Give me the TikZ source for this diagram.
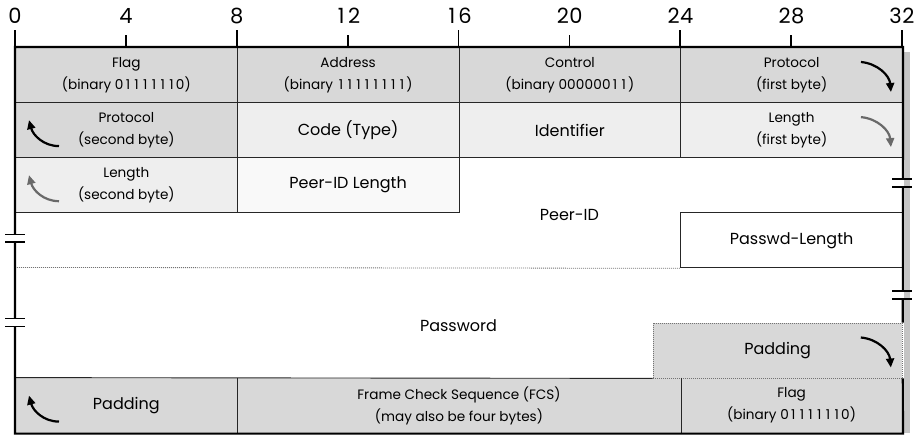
\documentclass[tikz,border=0pt]{standalone}
\usepackage{fontspec}
\setmainfont{Poppins}
\usepackage{xcolor}
\usetikzlibrary{arrows.meta,positioning}
\definecolor{pktdark}{RGB}{216,216,216}
\definecolor{pktlight}{RGB}{238,238,238}
\definecolor{pktpale}{RGB}{249,249,249}
\definecolor{pktshade}{RGB}{196,196,196}
\definecolor{arrowgray}{RGB}{105,105,105}
% evenly spaced digits
\newlength\digitwd
\def\digits#1{\digitsloop#1\relax}
\def\digitsloop#1{\ifx#1\relax\else\makebox[\digitwd]{#1}\expandafter\digitsloop\fi}
\tikzset{
  field/.style={draw=black!85,line width=0.9pt,anchor=north west,inner sep=0pt,
                minimum width=#1*27.72pt,minimum height=55.1pt,align=center,
                font=\fontsize{13.6}{22}\selectfont\setlength\digitwd{0.64em}},
  bigfield/.style={field=#1,font=\fontsize{16}{18}\selectfont},
  plainlbl/.style={inner sep=0pt,font=\fontsize{16}{18}\selectfont},
  frameline/.style={draw=black,line width=2.2pt},
  sepline/.style={draw=black!85,line width=0.9pt},
  dotrule/.style={draw=black!55,line width=0.8pt,dash pattern=on 0.9pt off 1.1pt},
  bendarrow/.style={-{Stealth[length=9pt,width=8pt,inset=0pt]},line width=2.2pt},
  bittick/.style={draw=black,line width=1.8pt},
  bitnum/.style={font=\fontsize{21}{21}\selectfont\setlength\digitwd{0.62em},
                 anchor=base,inner sep=0pt},
  brk/.style={draw=black,line width=1.6pt},
}

\begin{document}
\begin{tikzpicture}[x=27.72pt,y=-55.1pt]
\useasboundingbox (-0.5411,-0.853) rectangle (32.576,7.060);

% ============ bit ruler ============
\foreach \b in {0,4,...,32} { \node[bitnum] (n\b) at (\b,-0.43) {\expandafter\digits\expandafter{\b}}; }
\foreach \b in {4,12,20,28} { \draw[bittick] (\b,0) -- (\b,-0.22); }
\foreach \b in {0,8,16,24,32} { \draw[bittick] (\b,0) -- (\b,-0.31); }

% shadow on the right edge
\fill[pktshade] (32.07,0.09) rectangle (32.29,7.0);

% ============ fixed header ============
\node[field=8,fill=pktdark] (flag) at (0,0) {Flag\\(binary \digits{01111110})};
\node[field=8,fill=pktdark] (addr) at (8,0) {Address\\(binary \digits{11111111})};
\node[field=8,fill=pktdark] (ctrl) at (16,0) {Control\\(binary \digits{00000011})};
\node[field=8,fill=pktdark] (protoa) at (24,0) {Protocol\\(first byte)};
\node[field=8,fill=pktdark] (protob) at (0,1) {Protocol\\(second byte)};
\node[bigfield=8,fill=pktlight] (code) at (8,1) {Code (Type)};
\node[bigfield=8,fill=pktlight] (ident) at (16,1) {Identifier};
\node[field=8,fill=pktlight] (lena) at (24,1) {Length\\(first byte)};
\node[field=8,fill=pktlight] (lenb) at (0,2) {Length\\(second byte)};
\node[bigfield=8,fill=pktpale] (peerlen) at (8,2) {Peer-ID Length};

% ============ variable part ============
\node[bigfield=8,fill=white] (pwlen) at (24,3) {Passwd-Length};
\node[plainlbl] (peerid) at (20,3.05) {Peer-ID};
\draw[dotrule] (0,4) -- (pwlen.south west);
\node[plainlbl] (passwd) at (16,5.05) {Password};

% ============ trailer ============
\node[bigfield=8,fill=pktdark,draw=none] (padl) at (0,6) {Padding};
\node[field=16,fill=pktdark,draw=none] (fcs) at (8,6)
  {Frame Check Sequence (FCS)\\(may also be four bytes)};
\node[field=8,fill=pktdark,draw=none] (flagb) at (24,6) {Flag\\(binary \digits{01111110})};
\node[bigfield=9,fill=pktdark,dotrule] (padr) at (23,5) {Padding};
\draw[sepline] (padl.north west) -- (padr.south west);
\draw[sepline] (padl.north east) -- (padl.south east) (fcs.north east) -- (fcs.south east);

% outer frame, open where the padding runs into the border
\draw[frameline] (padr.north east) -- (protoa.north east) -- (flag.north west)
  -- (padl.south west) -- (flagb.south east) -- (padr.south east);

% break marks
\foreach \x/\y in {0/3.47, 0/5.0, 32/2.47, 32/4.5} {
  \fill[white] (\x-0.08,\y-0.07) rectangle (\x+0.08,\y+0.07);
  \draw[brk] (\x-0.36,\y-0.07) -- (\x+0.36,\y-0.07) (\x-0.36,\y+0.07) -- (\x+0.36,\y+0.07);
}

% byte-order arrows
\foreach \c/\col in {protoa/black,lena/arrowgray,padr/black}
  \draw[bendarrow,draw=\col] ([shift={(-42pt,-15pt)}]\c.north east)
    to[out=-5,in=95] ([shift={(-12pt,-45pt)}]\c.north east);
\foreach \c/\col in {protob/black,lenb/arrowgray,padl/black}
  \draw[bendarrow,draw=\col] ([shift={(44pt,12pt)}]\c.south west)
    to[out=180,in=-75] ([shift={(14pt,38pt)}]\c.south west);
\end{tikzpicture}
\end{document}
